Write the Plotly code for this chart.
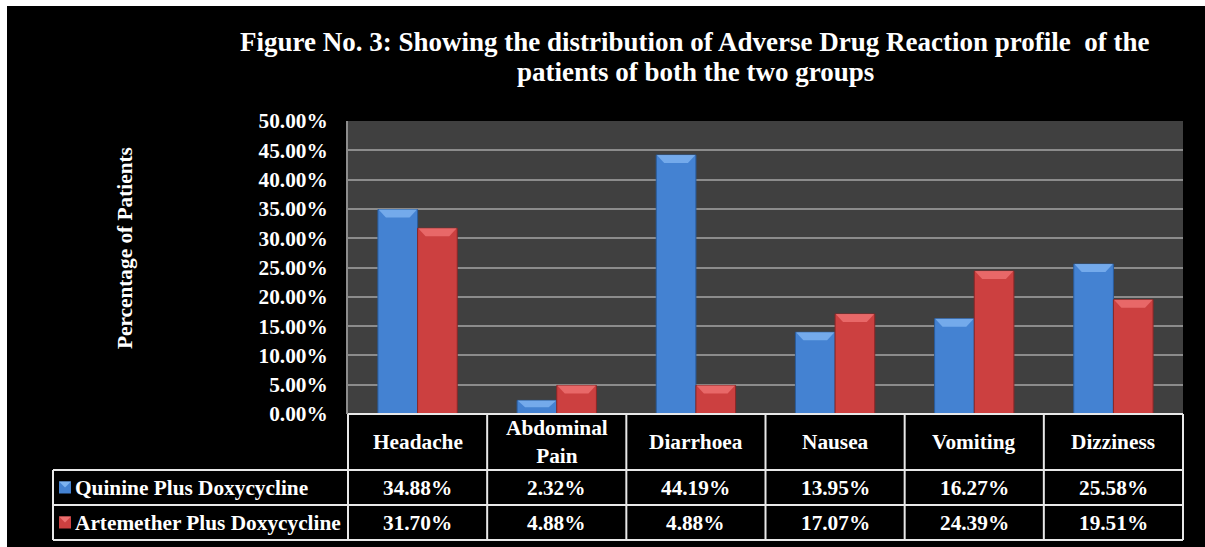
import plotly.graph_objects as go

# ---------------- data ----------------
categories = ["Headache", "Abdominal Pain", "Diarrhoea", "Nausea", "Vomiting", "Dizziness"]
header_labels = ["Headache", "Abdominal<br>Pain", "Diarrhoea", "Nausea", "Vomiting", "Dizziness"]
series_names = ["Quinine Plus Doxycycline", "Artemether Plus Doxycycline"]
quinine = [34.88, 2.32, 44.19, 13.95, 16.27, 25.58]
artemether = [31.70, 4.88, 4.88, 17.07, 24.39, 19.51]
y_ticks = [0, 5, 10, 15, 20, 25, 30, 35, 40, 45, 50]

title_lines = ["Figure No. 3: Showing the distribution of Adverse Drug Reaction profile  of the",
               "patients of both the two groups"]
y_title = "Percentage of Patients"

# ---------------- styling ----------------
FW, FH = 1205, 547
L, R, T, B = 348, 1183, 121, 414
PW, PH = R - L, B - T
FONT = "Liberation Serif"
FS = 21.3
BLUE, BLUE_TOP, BLUE_EDGE = "#4482D2", "#7CB2F0", "#2A5C9C"
RED, RED_TOP, RED_EDGE = "#CC4040", "#EC7070", "#8A2626"
GRID = "#8C8C8C"
PLOTBG = "#404040"
LINE = "#E8E8E8"


def xp(px):
    return (px - L) / PW


def yp(py):
    return (B - py) / PH


x_pos = list(range(len(categories)))
bargap = 0.43
bw = (1 - bargap) / 2

fig = go.Figure()
fig.add_trace(go.Bar(x=x_pos, y=quinine, name=series_names[0],
                     marker=dict(color=BLUE, line=dict(color=BLUE_EDGE, width=1))))
fig.add_trace(go.Bar(x=x_pos, y=artemether, name=series_names[1],
                     marker=dict(color=RED, line=dict(color=RED_EDGE, width=1))))

shapes = []
# bevel tops on bars (derived from data)
cap_px = 8
cap_y = cap_px * 50 / PH
cap_x = cap_px / (PW / len(categories))
for vals, off, top in ((quinine, -bw, BLUE_TOP), (artemether, 0, RED_TOP)):
    for i, v in enumerate(vals):
        x0 = i + off
        x1 = x0 + bw
        h = min(cap_y, v * 0.5)
        d = min(cap_x, bw / 2.2)
        path = (f"M {x0 + 0.004},{v} L {x1 - 0.004},{v} L {x1 - d},{v - h} "
                f"L {x0 + d},{v - h} Z")
        shapes.append(dict(type="path", xref="x", yref="y", path=path,
                           fillcolor=top, line=dict(width=0), layer="above", opacity=0.85))

# white page margins (reference has a thin white frame top/left)
shapes.append(dict(type="rect", xref="paper", yref="paper", x0=xp(0), x1=xp(7), y0=yp(FH), y1=yp(0),
                   fillcolor="white", line=dict(width=0), layer="above"))
shapes.append(dict(type="rect", xref="paper", yref="paper", x0=xp(0), x1=xp(FW), y0=yp(6), y1=yp(0),
                   fillcolor="white", line=dict(width=0), layer="above"))

# data table lines
tbl_left = 53
row_y = [414, 470, 505, 540]
col_w = PW / len(categories)


def hline(x0, x1, y):
    shapes.append(dict(type="line", xref="paper", yref="paper", x0=xp(x0), x1=xp(x1),
                       y0=yp(y), y1=yp(y), line=dict(color=LINE, width=2), layer="above"))


def vline(x, y0, y1):
    shapes.append(dict(type="line", xref="paper", yref="paper", x0=xp(x), x1=xp(x),
                       y0=yp(y0), y1=yp(y1), line=dict(color=LINE, width=2), layer="above"))


hline(L, R, row_y[0])
for y in row_y[1:]:
    hline(tbl_left, R, y)
vline(tbl_left, row_y[1], row_y[3])
for k in range(len(categories) + 1):
    vline(L + k * col_w, row_y[0], row_y[3])

annotations = []
# title (two lines)
for line_text, cy in zip(title_lines, (42, 72)):
    annotations.append(dict(text=line_text, xref="paper", yref="paper", x=xp(695), y=yp(cy),
                            xanchor="center", yanchor="middle", showarrow=False,
                            font=dict(family=FONT, size=27, color="white", weight="bold")))
# y axis title
annotations.append(dict(text=y_title, xref="paper", yref="paper", x=xp(125), y=yp(248),
                        textangle=-90, xanchor="center", yanchor="middle", showarrow=False,
                        font=dict(family=FONT, size=FS, color="white", weight="bold")))

# table header + values
hdr_y = (row_y[0] + row_y[1]) / 2
for k, lab in enumerate(header_labels):
    cx = L + (k + 0.5) * col_w
    annotations.append(dict(text=lab, xref="paper", yref="paper", x=xp(cx), y=yp(hdr_y),
                            xanchor="center", yanchor="middle", showarrow=False,
                            font=dict(family=FONT, size=FS, color="white", weight="bold")))
for r, (vals, name, col, top) in enumerate(((quinine, series_names[0], BLUE, BLUE_TOP),
                                           (artemether, series_names[1], RED, RED_TOP))):
    cy = (row_y[r + 1] + row_y[r + 2]) / 2
    for k, v in enumerate(vals):
        cx = L + (k + 0.5) * col_w
        annotations.append(dict(text=f"{v:.2f}%", xref="paper", yref="paper", x=xp(cx), y=yp(cy),
                                xanchor="center", yanchor="middle", showarrow=False,
                                font=dict(family=FONT, size=FS, color="white", weight="bold")))
    annotations.append(dict(text=name, xref="paper", yref="paper", x=xp(73), y=yp(cy),
                            xanchor="left", yanchor="middle", showarrow=False,
                            font=dict(family=FONT, size=FS, color="white", weight="bold")))
    # legend key
    shapes.append(dict(type="rect", xref="paper", yref="paper", x0=xp(59), x1=xp(71),
                       y0=yp(cy + 6), y1=yp(cy - 6), fillcolor=col, line=dict(width=0), layer="above"))
    shapes.append(dict(type="path", xref="paper", yref="paper",
                       path=f"M {xp(59)},{yp(cy - 6)} L {xp(71)},{yp(cy - 6)} L {xp(65)},{yp(cy)} Z",
                       fillcolor=top, line=dict(width=0), layer="above"))

fig.update_layout(
    width=FW, height=FH,
    margin=dict(l=L, r=FW - R, t=T, b=FH - B, pad=0),
    paper_bgcolor="black", plot_bgcolor=PLOTBG,
    barmode="group", bargap=bargap, bargroupgap=0,
    showlegend=False,
    shapes=shapes, annotations=annotations,
    xaxis=dict(range=[-0.5, len(categories) - 0.5], showticklabels=False, showgrid=False,
               zeroline=False, showline=False, ticks=""),
    yaxis=dict(range=[0, 50], tickvals=y_ticks, ticktext=[f"{v:.2f}%" for v in y_ticks],
               showgrid=True, gridcolor=GRID, gridwidth=2, zeroline=False,
               showline=True, linecolor=GRID, linewidth=2, ticks="", ticklabelstandoff=14,
               tickfont=dict(family=FONT, size=FS, color="white", weight="bold")),
)

fig.write_html("out.html")
